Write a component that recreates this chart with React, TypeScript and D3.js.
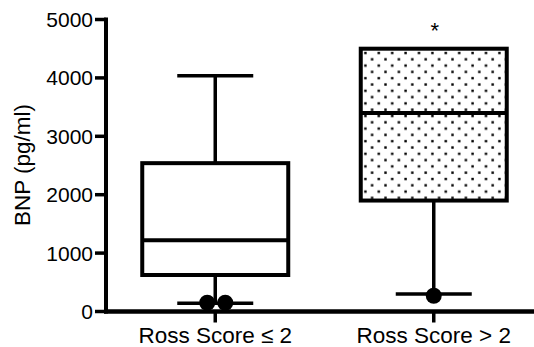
import React from "react";
import * as d3 from "d3";

const categories = ["Ross Score \u2264 2", "Ross Score > 2"];
const whiskerLow = [140, 300];
const q1 = [625, 1900];
const median = [1220, 3400];
const q3 = [2540, 4500];
const whiskerHigh = [4035, 4500];
const outliers: number[][] = [[150, 150], [270]];
const outlierJitter: number[][] = [[-8, 10], [0]];
const patterned = [false, true];
const significance = ["", "*"];
const yTicks = [0, 1000, 2000, 3000, 4000, 5000];
const yLabel = "BNP (pg/ml)";

const W = 534;
const H = 347;
const FONT = "'Liberation Sans', Arial, Helvetica, sans-serif";

export default function App() {
  const y = d3.scaleLinear().domain([0, 5000]).range([311.5, 19.5]);
  const x = d3.scaleBand().domain(categories).range([106, 543]).paddingInner(0).paddingOuter(0);
  const cx = (c: string) => (x(c) as number) + x.bandwidth() / 2;
  const boxW = 146;
  const capW = 76;
  const axisX = 106;
  const axisY = y(0);

  return (
    <svg
      width={W}
      height={H}
      style={{ position: "absolute", left: 0, top: 0, background: "#fff" }}
      fontFamily={FONT}
    >
      <defs>
        <pattern id="dots" x={362} y={50} width={13.4} height={12.6} patternUnits="userSpaceOnUse">
          <rect width={13.4} height={12.6} fill="#fff" />
          <rect x={2.2} y={1.8} width={2.4} height={2.4} fill="#000" />
          <rect x={8.9} y={8.1} width={2.4} height={2.4} fill="#000" />
        </pattern>
      </defs>
      <rect width={W} height={H} fill="#fff" />

      {/* boxes */}
      {categories.map((c, i) => {
        const m = cx(c);
        return (
          <g key={c}>
            <line x1={m} x2={m} y1={y(q1[i])} y2={y(whiskerLow[i])} stroke="#000" strokeWidth={3.5} />
            <line x1={m - capW / 2} x2={m + capW / 2} y1={y(whiskerLow[i])} y2={y(whiskerLow[i])} stroke="#000" strokeWidth={3.5} />
            {whiskerHigh[i] > q3[i] && (
              <>
                <line x1={m} x2={m} y1={y(q3[i])} y2={y(whiskerHigh[i])} stroke="#000" strokeWidth={3.5} />
                <line x1={m - capW / 2} x2={m + capW / 2} y1={y(whiskerHigh[i])} y2={y(whiskerHigh[i])} stroke="#000" strokeWidth={3.5} />
              </>
            )}
            <rect
              x={m - boxW / 2}
              y={y(q3[i])}
              width={boxW}
              height={y(q1[i]) - y(q3[i])}
              fill={patterned[i] ? "url(#dots)" : "#fff"}
              stroke="#000"
              strokeWidth={4}
            />
            <line x1={m - boxW / 2} x2={m + boxW / 2} y1={y(median[i])} y2={y(median[i])} stroke="#000" strokeWidth={4} />
            {outliers[i].map((v, j) => (
              <circle key={j} cx={m + outlierJitter[i][j]} cy={y(v)} r={8} fill="#000" />
            ))}
            {significance[i] && (
              <text x={m + 1} y={37.5} textAnchor="middle" fontSize={22} fill="#000">
                {significance[i]}
              </text>
            )}
          </g>
        );
      })}

      {/* y axis */}
      <line x1={axisX} x2={axisX} y1={y(5000) - 2} y2={axisY + 2} stroke="#000" strokeWidth={4} />
      {yTicks.map((t) => (
        <g key={t}>
          <line x1={axisX - 11} x2={axisX} y1={y(t)} y2={y(t)} stroke="#000" strokeWidth={3.5} />
          <text x={93} y={y(t)} dy="0.36em" textAnchor="end" fontSize={21} fill="#000">
            {t}
          </text>
        </g>
      ))}
      <text
        transform={`translate(30, ${165}) rotate(-90)`}
        textAnchor="middle"
        fontSize={22.5}
        fill="#000"
      >
        {yLabel}
      </text>

      {/* x axis */}
      <line x1={axisX - 2} x2={W + 5} y1={axisY} y2={axisY} stroke="#000" strokeWidth={4.5} />
      {categories.map((c) => (
        <g key={c}>
          <line x1={cx(c)} x2={cx(c)} y1={axisY} y2={axisY + 11} stroke="#000" strokeWidth={3.5} />
          <text x={cx(c)} y={343} textAnchor="middle" fontSize={22.5} fill="#000">
            {c}
          </text>
        </g>
      ))}
    </svg>
  );
}
